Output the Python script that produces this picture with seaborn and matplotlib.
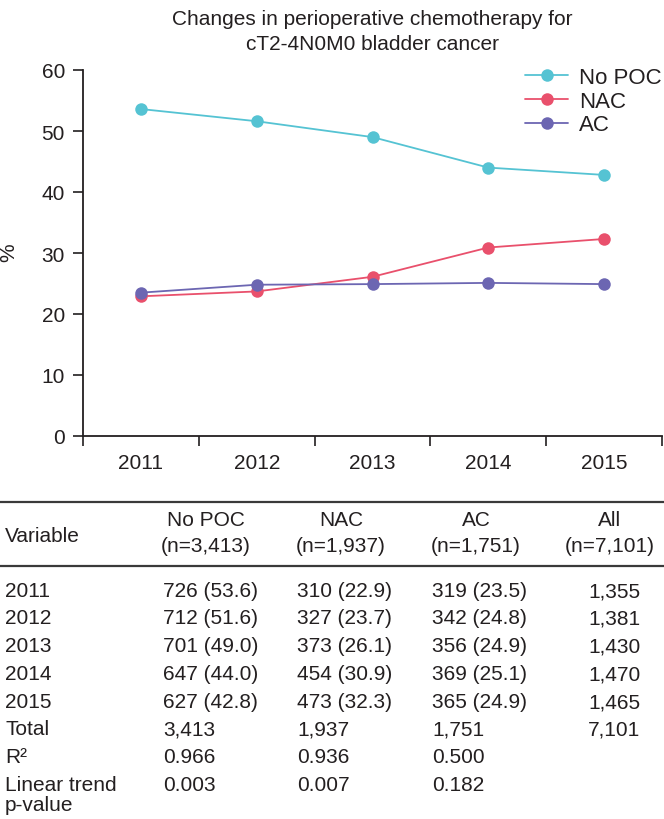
import numpy as np
import pandas as pd
import matplotlib
matplotlib.use("Agg")
import matplotlib.pyplot as plt
from matplotlib.lines import Line2D
import seaborn as sns

years      = [2011, 2012, 2013, 2014, 2015]
groups     = ["No POC", "NAC", "AC"]
no_poc_n   = [726, 712, 701, 647, 627]
no_poc_pct = [53.6, 51.6, 49.0, 44.0, 42.8]
nac_n      = [310, 327, 373, 454, 473]
nac_pct    = [22.9, 23.7, 26.1, 30.9, 32.3]
ac_n       = [319, 342, 356, 369, 365]
ac_pct     = [23.5, 24.8, 24.9, 25.1, 24.9]
all_n      = [1355, 1381, 1430, 1470, 1465]
totals     = [3413, 1937, 1751, 7101]
r2_vals    = ["0.966", "0.936", "0.500"]
p_vals     = ["0.003", "0.007", "0.182"]
y_ticks    = [0, 10, 20, 30, 40, 50, 60]

colors = {"No POC": "#55C3D3", "NAC": "#E9506C", "AC": "#6C66B2"}
TXT = "#231F20"

sns.set_theme(style="white")
plt.rcParams["font.family"] = ["Liberation Sans", "DejaVu Sans"]
plt.rcParams["text.color"] = TXT

W, H = 664, 820
fig = plt.figure(figsize=(W / 100, H / 100), dpi=100)

def P(x, y):
    return x / W, 1 - y / H

# ── Line chart ────────────────────────────────────────────────────────────────
df = pd.DataFrame({
    "idx":   list(range(len(years))) * 3,
    "pct":   no_poc_pct + nac_pct + ac_pct,
    "group": sum([[g] * len(years) for g in groups], []),
})

ax = fig.add_axes([83 / W, 1 - 437 / H, (662 - 83) / W, (437 - 71) / H])
sns.lineplot(data=df, x="idx", y="pct", hue="group", hue_order=groups,
             palette=colors, marker="o", markersize=9, markeredgewidth=0,
             linewidth=1.3, legend=False, ax=ax)

ax.set_xlim(-0.5, len(years) - 0.5)
ax.set_ylim(0, 60)
ax.set_yticks(y_ticks)
ax.set_xticks(np.arange(-0.5, len(years), 1.0))
ax.set_xticklabels([])
ax.set_xticks(range(len(years)), labels=[str(y) for y in years], minor=True)
ax.tick_params(axis="x", which="major", length=7, width=1.2, color=TXT, direction="out", bottom=True)
ax.tick_params(axis="x", which="minor", length=0, labelsize=15, labelcolor=TXT, pad=12)
ax.tick_params(axis="y", length=7, width=1.2, color=TXT, labelsize=15, labelcolor=TXT, pad=6, left=True)
ax.set_xlabel("")
ax.set_ylabel("%", fontsize=15, color=TXT)
ax.yaxis.set_label_coords(18 / W, 1 - 253 / H, transform=fig.transFigure)
sns.despine(ax=ax)
for s in ["left", "bottom"]:
    ax.spines[s].set_color(TXT)
    ax.spines[s].set_linewidth(1.3)
ax.set_title("Changes in perioperative chemotherapy for\ncT2-4N0M0 bladder cancer",
             fontsize=15, color=TXT, pad=15, linespacing=1.4)

handles = [Line2D([0], [0], color=colors[g], lw=1.3, marker="o", markersize=9,
                  markeredgewidth=0) for g in groups]
fig.legend(handles, groups, loc="upper left", bbox_to_anchor=P(525, 68),
           frameon=False, fontsize=16, borderpad=0, borderaxespad=0,
           handlelength=1.95, handletextpad=0.5, labelspacing=0.12)

# ── Table ─────────────────────────────────────────────────────────────────────
for yl in (503, 567):
    fig.add_artist(Line2D([0, 1], [1 - yl / H] * 2, transform=fig.transFigure,
                          color="#3a3a3a", lw=1.6))

FS = 15
head_x = [206, 341, 476, 610]
data_x = [163, 297, 432, 588]
fig.text(*P(5, 536), "Variable", fontsize=FS, va="center", ha="left")
for g, n, hx in zip(groups + ["All"], totals, head_x):
    fig.text(*P(hx, 521), g, fontsize=FS, va="center", ha="center")
    fig.text(*P(hx, 547), f"(n={n:,})", fontsize=FS, va="center", ha="center")

row_y = [592, 619, 647, 675, 703]
for i, yr in enumerate(years):
    cells = [f"{no_poc_n[i]} ({no_poc_pct[i]:.1f})",
             f"{nac_n[i]} ({nac_pct[i]:.1f})",
             f"{ac_n[i]} ({ac_pct[i]:.1f})",
             f"{all_n[i]:,}"]
    fig.text(*P(5, row_y[i]), str(yr), fontsize=FS, va="center", ha="left")
    for cx, c in zip(data_x, cells):
        fig.text(*P(cx, row_y[i]), c, fontsize=FS, va="center", ha="left")

fig.text(*P(5, 730), "Total", fontsize=FS, va="center", ha="left")
for cx, t in zip(data_x, totals):
    fig.text(*P(cx, 730), f"{t:,}", fontsize=FS, va="center", ha="left")

fig.text(*P(5, 758), "R²", fontsize=FS, va="center", ha="left")
for cx, v in zip(data_x, r2_vals):
    fig.text(*P(cx, 758), v, fontsize=FS, va="center", ha="left")

fig.text(*P(5, 786), "Linear trend", fontsize=FS, va="center", ha="left")
fig.text(*P(5, 806), "p-value", fontsize=FS, va="center", ha="left")
for cx, v in zip(data_x, p_vals):
    fig.text(*P(cx, 786), v, fontsize=FS, va="center", ha="left")

fig.savefig("out.png", dpi=100)
